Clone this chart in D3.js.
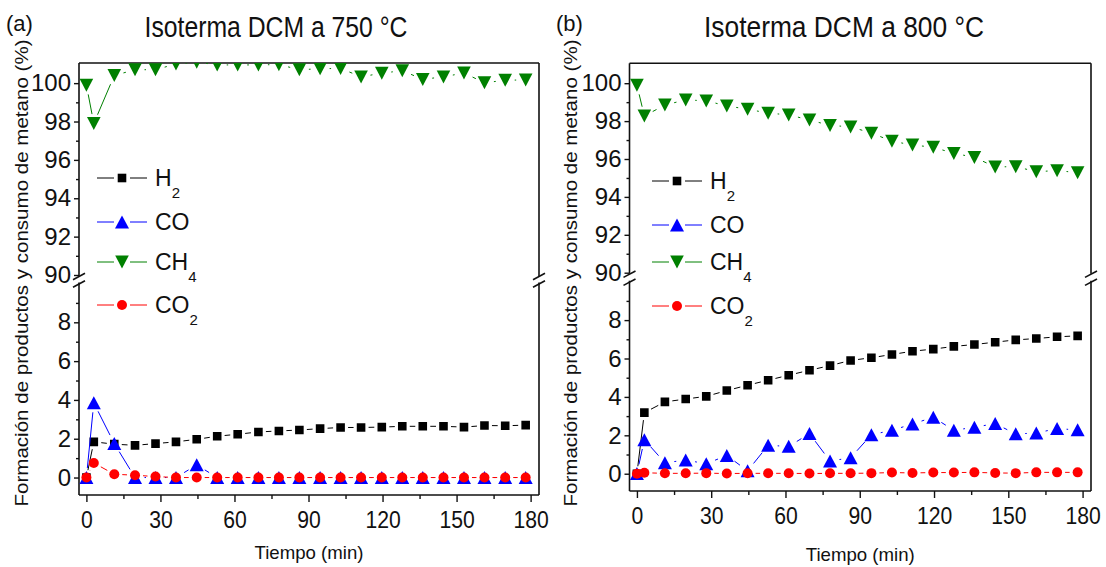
<!DOCTYPE html>
<html>
<head>
<meta charset="utf-8">
<script src="https://cdn.jsdelivr.net/npm/d3@7"></script>
<style>
  body { margin: 0; background: #fff; }
  svg { display: block; }
  text { font-family: "Liberation Sans", Arial, Helvetica, sans-serif; fill: #111; }
</style>
</head>
<body>
<svg id="chart" width="1106" height="567"></svg>
<script>
// Sampling times (min)
const times = [0, 3, 11.3, 19.7, 28, 36.3, 44.7, 53, 61.3, 69.7, 78, 86.3, 94.7,
               103, 111.3, 119.7, 128, 136.3, 144.7, 153, 161.3, 169.7, 178];

// 750 °C isotherm (%)
const h2_750  = [0, 1.84, 1.72, 1.66, 1.75, 1.84, 1.97, 2.13, 2.23, 2.35, 2.4, 2.45, 2.52,
                 2.58, 2.58, 2.6, 2.64, 2.64, 2.64, 2.6, 2.68, 2.67, 2.7];
const co_750  = [0, 3.85, 1.75, 0, 0, 0, 0.65, 0, 0, 0, 0, 0, 0,
                 0, 0, 0, 0, 0, 0, 0, 0, 0, 0];
const ch4_750 = [99.9, 97.9, 100.4, 100.7, 100.7, 101.0, 101.1, 100.95, 100.95, 100.95, 100.97, 100.7, 100.75,
                 100.77, 100.33, 100.52, 100.65, 100.2, 100.33, 100.53, 100.02, 100.15, 100.17];
const co2_750 = [0, 0.75, 0.17, 0.12, 0.05, 0, 0, 0, 0, 0, 0, 0, 0,
                 0, 0, 0, 0, 0, 0, 0, 0, 0, 0];

// 800 °C isotherm (%)
const h2_800  = [0, 3.18, 3.74, 3.89, 4.03, 4.33, 4.61, 4.87, 5.13, 5.39, 5.63, 5.9, 6.04,
                 6.21, 6.38, 6.49, 6.63, 6.73, 6.85, 6.97, 7.04, 7.13, 7.18];
const co_800  = [0, 1.77, 0.57, 0.71, 0.52, 0.95, 0.15, 1.48, 1.42, 2.09, 0.66, 0.83, 2.03,
                 2.26, 2.59, 2.94, 2.26, 2.42, 2.61, 2.07, 2.12, 2.35, 2.28];
const ch4_800 = [99.9, 98.27, 98.85, 99.12, 99.07, 98.8, 98.63, 98.42, 98.33, 98.06, 97.77, 97.7, 97.37,
                 96.94, 96.74, 96.62, 96.3, 96.09, 95.58, 95.6, 95.33, 95.39, 95.28];
const co2_800 = [0, 0.05, 0.02, 0.02, 0.03, 0.01, 0.02, 0.02, 0.02, 0.01, 0.02, 0.02, 0.03,
                 0.06, 0.04, 0.06, 0.06, 0.07, 0.04, 0.03, 0.07, 0.07, 0.07];

// Axis ticks
const xTicks = [0, 30, 60, 90, 120, 150, 180];
const xMinorTicks = [15, 45, 75, 105, 135, 165];
const yTicksUpper = [90, 92, 94, 96, 98, 100];
const yMinorUpper = [91, 93, 95, 97, 99];
const yTicksLower = [0, 2, 4, 6, 8];
const yMinorLower = [1, 3, 5, 7, 9];

// Series: name, subscript, which y segment
const seriesKeys = ["H2", "CO", "CH4", "CO2"];
const seriesLabel = { H2: ["H", "2"], CO: ["CO", ""], CH4: ["CH", "4"], CO2: ["CO", "2"] };

const style = {
  H2:  { color: "#000000", shape: "square",   gap: 7.5, segment: "lower" },
  CO:  { color: "#0000ff", shape: "triUp",    gap: 9.5, segment: "lower" },
  CH4: { color: "#008000", shape: "triDown",  gap: 9.5, segment: "upper" },
  CO2: { color: "#ff0000", shape: "circle",   gap: 8,   segment: "lower" }
};

const panels = [
  {
    letter: "(a)", title: "Isoterma DCM a 750 °C",
    data: { H2: h2_750, CO: co_750, CH4: ch4_750, CO2: co2_750 },
    x0: 79, x1: 539, top: 63, upBot: 275, lowTop: 283.5, bottom: 495,
    letterX: 6, titleCX: 276, titleW: 263, yLabX: 22, xLabY: 559,
    legX: 97, legY: [178, 222, 262, 305]
  },
  {
    letter: "(b)", title: "Isoterma DCM a 800 °C",
    data: { H2: h2_800, CO: co_800, CH4: ch4_800, CO2: co2_800 },
    x0: 629.5, x1: 1091, top: 63.3, upBot: 272.7, lowTop: 281.7, bottom: 491,
    letterX: 556, titleCX: 844, titleW: 280, yLabX: 571, xLabY: 561,
    legX: 652, legY: [181, 225, 262, 306]
  }
];

const svg = d3.select("#chart");

function condense(sel, f) {
  sel.each(function () {
    const w = this.getComputedTextLength();
    this.setAttribute("textLength", w * f);
    this.setAttribute("lengthAdjust", "spacingAndGlyphs");
  });
}
function fitWidth(sel, w) {
  sel.attr("textLength", w).attr("lengthAdjust", "spacingAndGlyphs");
}

function markerPath(shape) {
  switch (shape) {
    case "square":  return "M-4.3,-4.3H4.3V4.3H-4.3Z";
    case "triUp":   return "M0,-6.6L7,6.4L-7,6.4Z";
    case "triDown": return "M0,6.6L6.8,-6.4L-6.8,-6.4Z";
    default:        return d3.arc()({ innerRadius: 0, outerRadius: 5, startAngle: 0, endAngle: 2 * Math.PI });
  }
}

panels.forEach((p, pi) => {
  const g = svg.append("g");
  const x = d3.scaleLinear().domain([-3, 183.4]).range([p.x0, p.x1]);
  const yUp = d3.scaleLinear().domain([90, 101.05]).range([p.upBot, p.top]);
  const yLow = d3.scaleLinear().domain([-0.9, 10]).range([p.bottom, p.lowTop]);

  // clip regions for both axis segments
  const defs = svg.append("defs");
  defs.append("clipPath").attr("id", "clipUp" + pi).append("rect")
    .attr("x", p.x0).attr("y", p.top).attr("width", p.x1 - p.x0).attr("height", p.upBot - p.top);
  defs.append("clipPath").attr("id", "clipLow" + pi).append("rect")
    .attr("x", p.x0).attr("y", p.lowTop).attr("width", p.x1 - p.x0).attr("height", p.bottom - p.lowTop);

  // ---- axes ----
  const axisStyle = sel => {
    sel.select(".domain").remove();
    sel.selectAll(".tick line").attr("stroke", "#111").attr("stroke-width", 1.4);
  };
  const xAx = g.append("g").attr("transform", `translate(0,${p.bottom})`)
    .call(d3.axisBottom(x).tickValues(xTicks).tickSize(7).tickPadding(10).tickSizeOuter(0))
    .call(axisStyle);
  xAx.selectAll("text").style("font-size", "23px").attr("fill", "#111");
  condense(xAx.selectAll("text"), 0.92);
  g.append("g").attr("transform", `translate(0,${p.bottom})`)
    .call(d3.axisBottom(x).tickValues(xMinorTicks).tickSize(4).tickFormat("").tickSizeOuter(0))
    .call(axisStyle);

  const yAxU = g.append("g").attr("transform", `translate(${p.x0},0)`)
    .call(d3.axisLeft(yUp).tickValues(yTicksUpper).tickSize(5).tickPadding(3).tickSizeOuter(0))
    .call(axisStyle);
  g.append("g").attr("transform", `translate(${p.x0},0)`)
    .call(d3.axisLeft(yUp).tickValues(yMinorUpper).tickSize(3).tickFormat("").tickSizeOuter(0))
    .call(axisStyle);
  const yAxL = g.append("g").attr("transform", `translate(${p.x0},0)`)
    .call(d3.axisLeft(yLow).tickValues(yTicksLower).tickSize(5).tickPadding(3).tickSizeOuter(0))
    .call(axisStyle);
  g.append("g").attr("transform", `translate(${p.x0},0)`)
    .call(d3.axisLeft(yLow).tickValues(yMinorLower).tickSize(3).tickFormat("").tickSizeOuter(0))
    .call(axisStyle);
  [yAxU, yAxL].forEach(a => a.selectAll("text").style("font-size", "24px").attr("fill", "#111"));

  // ---- frame with broken y axis ----
  const frame = g.append("g").attr("stroke", "#111").attr("stroke-width", 1.6).attr("fill", "none");
  frame.append("line").attr("x1", p.x0).attr("x2", p.x1).attr("y1", p.top).attr("y2", p.top);
  frame.append("line").attr("x1", p.x0).attr("x2", p.x1).attr("y1", p.bottom).attr("y2", p.bottom);
  [p.x0, p.x1].forEach(xx => {
    frame.append("line").attr("x1", xx).attr("x2", xx).attr("y1", p.top).attr("y2", p.upBot + 1);
    frame.append("line").attr("x1", xx).attr("x2", xx).attr("y1", p.lowTop - 1).attr("y2", p.bottom);
    [p.upBot + 1.5, p.lowTop + 0.5].forEach(yy => {
      frame.append("line")
        .attr("x1", xx - 6).attr("y1", yy + 3.2)
        .attr("x2", xx + 6).attr("y2", yy - 3.2);
    });
  });

  // ---- series ----
  seriesKeys.forEach(key => {
    const st = style[key];
    const yS = st.segment === "upper" ? yUp : yLow;
    const vals = p.data[key];
    const pts = times.map((t, i) => [x(t), yS(vals[i])]);
    const sg = g.append("g").attr("clip-path", `url(#${st.segment === "upper" ? "clipUp" : "clipLow"}${pi})`);

    // connecting segments, kept clear of the symbols
    const segs = d3.pairs(pts).map(([a, b]) => {
      const dx = b[0] - a[0], dy = b[1] - a[1];
      const len = Math.hypot(dx, dy);
      if (len <= 2 * st.gap) return null;
      const ux = dx / len, uy = dy / len;
      return [a[0] + ux * st.gap, a[1] + uy * st.gap, b[0] - ux * st.gap, b[1] - uy * st.gap];
    }).filter(Boolean);
    sg.selectAll("line.seg").data(segs).join("line").attr("class", "seg")
      .attr("x1", d => d[0]).attr("y1", d => d[1]).attr("x2", d => d[2]).attr("y2", d => d[3])
      .attr("stroke", st.color).attr("stroke-width", 1);

    sg.selectAll("path.mk").data(pts).join("path").attr("class", "mk")
      .attr("d", markerPath(st.shape))
      .attr("transform", d => `translate(${d[0]},${d[1]})`)
      .attr("fill", st.color);
  });

  // ---- legend ----
  seriesKeys.forEach((key, i) => {
    const st = style[key];
    const ly = p.legY[i];
    const lg = g.append("g");
    lg.append("line").attr("x1", p.legX).attr("x2", p.legX + 17).attr("y1", ly).attr("y2", ly)
      .attr("stroke", st.color).attr("stroke-width", 1);
    lg.append("line").attr("x1", p.legX + 33).attr("x2", p.legX + 50).attr("y1", ly).attr("y2", ly)
      .attr("stroke", st.color).attr("stroke-width", 1);
    lg.append("path").attr("d", markerPath(st.shape))
      .attr("transform", `translate(${p.legX + 25},${ly})`).attr("fill", st.color);
    const [main, sub] = seriesLabel[key];
    const t = lg.append("text").attr("x", p.legX + 58).attr("y", ly + 8.3).style("font-size", "23px");
    t.append("tspan").text(main);
    if (sub) t.append("tspan").attr("dy", 12).style("font-size", "15px").text(sub);
  });

  // ---- titles and labels ----
  g.append("text").attr("x", p.letterX).attr("y", 31).style("font-size", "22px").text(p.letter);
  const tt = g.append("text").attr("x", p.titleCX).attr("y", 37).attr("text-anchor", "middle")
    .style("font-size", "30px").text(p.title);
  fitWidth(tt, p.titleW);

  const yl = g.append("text")
    .attr("transform", `translate(${p.yLabX},${273}) rotate(-90)`)
    .attr("text-anchor", "middle").attr("dy", "0.35em")
    .style("font-size", "18px").text("Formación de productos y consumo de metano (%)");
  fitWidth(yl, 467);

  const xl = g.append("text").attr("x", (p.x0 + p.x1) / 2).attr("y", p.xLabY)
    .attr("text-anchor", "middle").style("font-size", "19px").text("Tiempo (min)");
  fitWidth(xl, 109);
});
</script>
</body>
</html>
